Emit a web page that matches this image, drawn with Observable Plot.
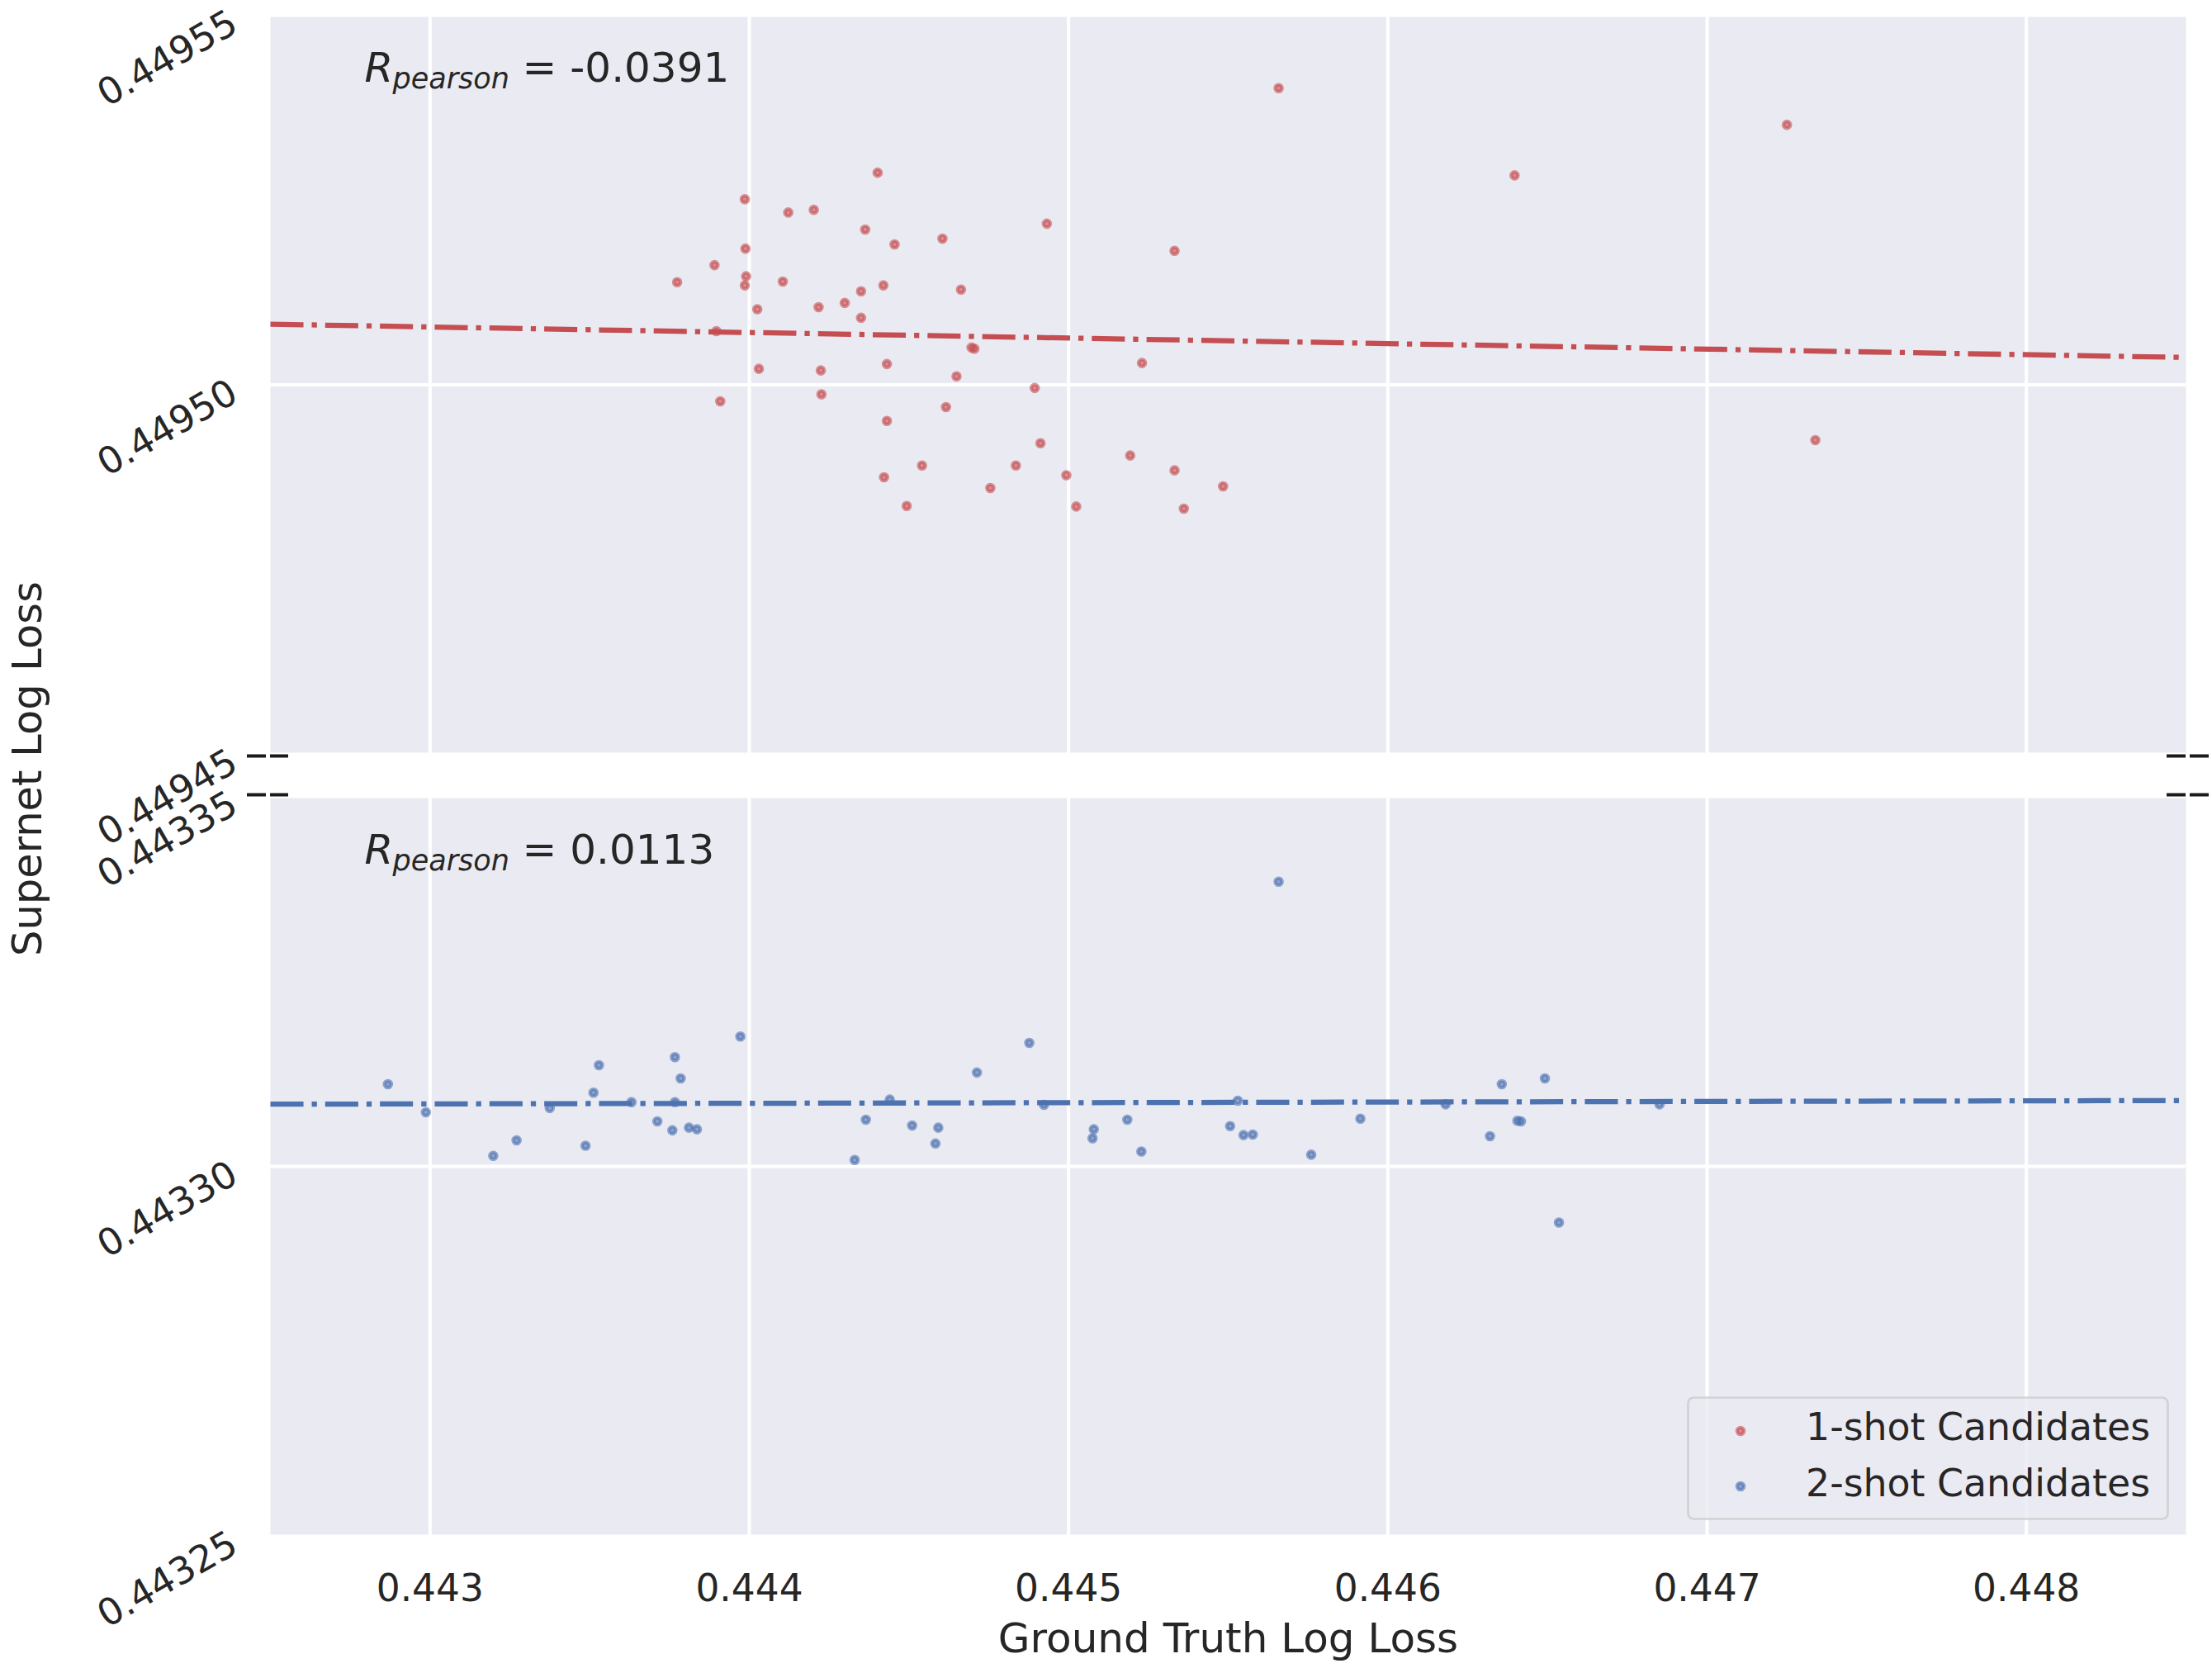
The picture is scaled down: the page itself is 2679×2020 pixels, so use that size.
<!DOCTYPE html>
<html>
<head>
<meta charset="utf-8">
<script src="https://cdn.jsdelivr.net/npm/d3@7"></script>
<script src="https://cdn.jsdelivr.net/npm/@observablehq/plot@0.6"></script>
<style>
  html, body { margin: 0; padding: 0; background: #ffffff; }
  #wrap { position: relative; width: 2679px; height: 2020px; background: #ffffff; font-family: "DejaVu Sans", sans-serif; overflow: hidden; }
  #top, #bot { position: absolute; left: 0; }
  #top { top: 0; }
  #bot { top: 940px; }
  #overlay { position: absolute; left: 0; top: 0; pointer-events: none; }
</style>
</head>
<body>
<div id="wrap">
  <div id="top"></div>
  <div id="bot"></div>
  <svg id="overlay" width="2679" height="2020" xmlns="http://www.w3.org/2000/svg"></svg>
</div>
<script>
// ---------------- data ----------------
const xTicks = [0.443, 0.444, 0.445, 0.446, 0.447, 0.448];
const xDomain = [0.4425, 0.4485];
const yTicksTop = [0.44945, 0.44950, 0.44955];
const yTicksBottom = [0.44325, 0.44330, 0.44335];
const xLabel = "Ground Truth Log Loss";
const yLabel = "Supernet Log Loss";
const seriesNames = ["1-shot Candidates", "2-shot Candidates"];
const seriesColors = ["#C44E52", "#4C72B0"];
const pearsonValues = ["-0.0391", "0.0113"];

const oneShotX = [0.443774, 0.443891, 0.443986, 0.443988, 0.443990, 0.443986, 0.444105, 0.444122, 0.444202, 0.444363,
  0.444455, 0.444402, 0.444605, 0.444932, 0.444420, 0.444350, 0.444663, 0.444217, 0.444299, 0.444025,
  0.444350, 0.443897, 0.444696, 0.444705, 0.444030, 0.444224, 0.444431, 0.444649, 0.443909, 0.444226,
  0.444894, 0.444616, 0.444431, 0.444912, 0.444541, 0.444835, 0.444422, 0.444993, 0.444755, 0.444493,
  0.445024, 0.445658, 0.446397, 0.447250, 0.445332, 0.445230, 0.445193, 0.445332, 0.445484, 0.445361,
  0.447339];
const oneShotY = [0.44951388, 0.44951619, 0.44952511, 0.44951842, 0.44951468, 0.44951345, 0.44951396, 0.44952331, 0.44952367, 0.44952101,
  0.44951899, 0.44952870, 0.44951978, 0.44952180, 0.44951345, 0.44951266, 0.44951288, 0.44951050, 0.44951108, 0.44951022,
  0.44950906, 0.44950727, 0.44950504, 0.44950489, 0.44950216, 0.44950194, 0.44950281, 0.44950115, 0.44949777, 0.44949871,
  0.44949957, 0.44949698, 0.44949511, 0.44949209, 0.44948907, 0.44948907, 0.44948748, 0.44948777, 0.44948604, 0.44948360,
  0.44948353, 0.44954014, 0.44952834, 0.44953518, 0.44951813, 0.44950295, 0.44949043, 0.44948842, 0.44948626, 0.44948324,
  0.44949252];

const twoShotX = [0.442868, 0.442987, 0.443198, 0.443271, 0.443375, 0.443487, 0.443512, 0.443529, 0.443631, 0.443712,
  0.443759, 0.443767, 0.443767, 0.443785, 0.443811, 0.443836, 0.443972, 0.444330, 0.444365, 0.444440,
  0.444510, 0.444583, 0.444592, 0.444713, 0.444877, 0.444923, 0.445075, 0.445079,
  0.445658, 0.445184, 0.445228, 0.445506, 0.445530, 0.445548, 0.445577, 0.445760, 0.445914, 0.446181,
  0.446320, 0.446357, 0.446406, 0.446417, 0.446492, 0.446536, 0.446851];
const twoShotY = [0.44331110, 0.44330731, 0.44330143, 0.44330351, 0.44330788, 0.44330279, 0.44330996, 0.44331368, 0.44330867, 0.44330609,
  0.44330487, 0.44331476, 0.44330867, 0.44331189, 0.44330523, 0.44330501, 0.44331755, 0.44330086, 0.44330630, 0.44330903,
  0.44330552, 0.44330308, 0.44330523, 0.44331268, 0.44331669, 0.44330831, 0.44330380, 0.44330501,
  0.44333847, 0.44330630, 0.44330201, 0.44330544, 0.44330888, 0.44330423, 0.44330430, 0.44330158, 0.44330645, 0.44330838,
  0.44330408, 0.44331110, 0.44330616, 0.44330609, 0.44331189, 0.44329241, 0.44330838];

const fitX = [0.4425, 0.4485];
const fitOneShotY = [0.4495082, 0.4495037];
const fitTwoShotY = [0.4433084, 0.4433089];

// ---------------- layout / style ----------------
const W = 2679, ML = 327, MR = 32;
const TEXT = "#262626";
const BG = "#EAEAF2";
const pxPerX = (W - ML - MR) / (xDomain[1] - xDomain[0]);
const fmtY = d3.format(".5f");
const fmtX = d3.format(".3f");

const zip = (xs, ys) => xs.map((x, i) => ({x, y: ys[i]}));

function panel({points, fit, yDomain, yTicks, color, height, marginTop, marginBottom, pearson, breakY, breakDy, isBottom}) {
  const breaks = [
    {y: breakY, x1: xDomain[0] - 28 / pxPerX, x2: xDomain[0] + 22 / pxPerX},
    {y: breakY, x1: xDomain[1] - 23 / pxPerX, x2: xDomain[1] + 28 / pxPerX}
  ];
  const annDy = isBottom ? 81 : 80;
  const marks = [
    Plot.frame({fill: BG, stroke: "none"}),
    Plot.gridX(xTicks, {stroke: "#ffffff", strokeOpacity: 1, strokeWidth: 4}),
    Plot.gridY(yTicks, {stroke: "#ffffff", strokeOpacity: 1, strokeWidth: 4}),
    Plot.dot(points, {x: "x", y: "y", r: 4.2, fill: color, fillOpacity: 0.6, stroke: color, strokeOpacity: 0.6, strokeWidth: 4.2}),
    Plot.line(fit, {x: "x", y: "y", stroke: color, strokeWidth: 6.26, strokeDasharray: "40.05,10.01,6.26,10.01", strokeLinecap: "butt"}),
    Plot.text(yTicks, {y: d => d, text: d => fmtY(d), frameAnchor: "left", dx: -44, dy: 6, rotate: -30,
      textAnchor: "end", lineAnchor: "middle", fontSize: 45, fill: TEXT}),
    Plot.text(["R"], {text: d => d, frameAnchor: "top-left", dx: 114, dy: annDy, textAnchor: "start", lineAnchor: "bottom",
      fontSize: 50, fontStyle: "italic", fill: TEXT}),
    Plot.text(["pearson"], {text: d => d, frameAnchor: "top-left", dx: 148, dy: annDy + 8, textAnchor: "start", lineAnchor: "bottom",
      fontSize: 35, fontStyle: "italic", fill: TEXT}),
    Plot.text([pearson], {text: d => "= " + d, frameAnchor: "top-left", dx: 305, dy: annDy, textAnchor: "start", lineAnchor: "bottom",
      fontSize: 50, fill: TEXT}),
    Plot.ruleY(breaks, {y: "y", x1: "x1", x2: "x2", dy: breakDy, stroke: "#1a1a1a", strokeWidth: 4, strokeDasharray: "23,5"})
  ];
  if (isBottom) {
    marks.push(
      Plot.text(xTicks, {x: d => d, text: d => fmtX(d), frameAnchor: "bottom", dy: 78, lineAnchor: "bottom", fontSize: 45.5, fill: TEXT}),
      Plot.text([xLabel], {text: d => d, frameAnchor: "bottom", dy: 140, lineAnchor: "bottom", fontSize: 50, fill: TEXT})
    );
  }
  return Plot.plot({
    width: W,
    height,
    marginTop,
    marginBottom,
    marginLeft: ML,
    marginRight: MR,
    style: {fontFamily: "'DejaVu Sans', sans-serif", background: "transparent", color: TEXT, overflow: "visible"},
    x: {domain: xDomain, axis: null},
    y: {domain: [yDomain[0], yDomain[yDomain.length - 1]], axis: null},
    marks
  });
}

document.getElementById("top").append(panel({
  points: zip(oneShotX, oneShotY),
  fit: zip(fitX, fitOneShotY),
  yDomain: yTicksTop,
  yTicks: yTicksTop,
  color: seriesColors[0],
  height: 940,
  marginTop: 18,
  marginBottom: 27,
  pearson: pearsonValues[0],
  breakY: yTicksTop[0],
  breakDy: 2,
  isBottom: false
}));

document.getElementById("bot").append(panel({
  points: zip(twoShotX, twoShotY),
  fit: zip(fitX, fitTwoShotY),
  yDomain: yTicksBottom,
  yTicks: yTicksBottom,
  color: seriesColors[1],
  height: 1080,
  marginTop: 24,
  marginBottom: 160,
  pearson: pearsonValues[1],
  breakY: yTicksBottom[2],
  breakDy: -2,
  isBottom: true
}));

// ---------------- overlay: y label and legend ----------------
const ov = d3.select("#overlay");
ov.append("text")
  .attr("transform", "translate(50,931) rotate(-90)")
  .attr("text-anchor", "middle")
  .attr("font-family", "'DejaVu Sans', sans-serif")
  .attr("font-size", 49.5)
  .attr("fill", TEXT)
  .text(yLabel);

const lg = ov.append("g");
lg.append("rect")
  .attr("x", 2044.5).attr("y", 1692.5).attr("width", 581).attr("height", 147).attr("rx", 7)
  .attr("fill", BG).attr("fill-opacity", 0.8)
  .attr("stroke", "#cccccc").attr("stroke-opacity", 0.8).attr("stroke-width", 2.7);
seriesNames.forEach((name, i) => {
  const cy = i === 0 ? 1733 : 1800;
  const by = i === 0 ? 1744 : 1812;
  lg.append("circle")
    .attr("cx", 2108).attr("cy", cy).attr("r", 4.2)
    .attr("fill", seriesColors[i]).attr("fill-opacity", 0.6)
    .attr("stroke", seriesColors[i]).attr("stroke-opacity", 0.6).attr("stroke-width", 4.2);
  lg.append("text")
    .attr("x", 2187).attr("y", by)
    .attr("font-family", "'DejaVu Sans', sans-serif")
    .attr("font-size", 45.8)
    .attr("fill", TEXT)
    .text(name);
});
</script>
</body>
</html>
